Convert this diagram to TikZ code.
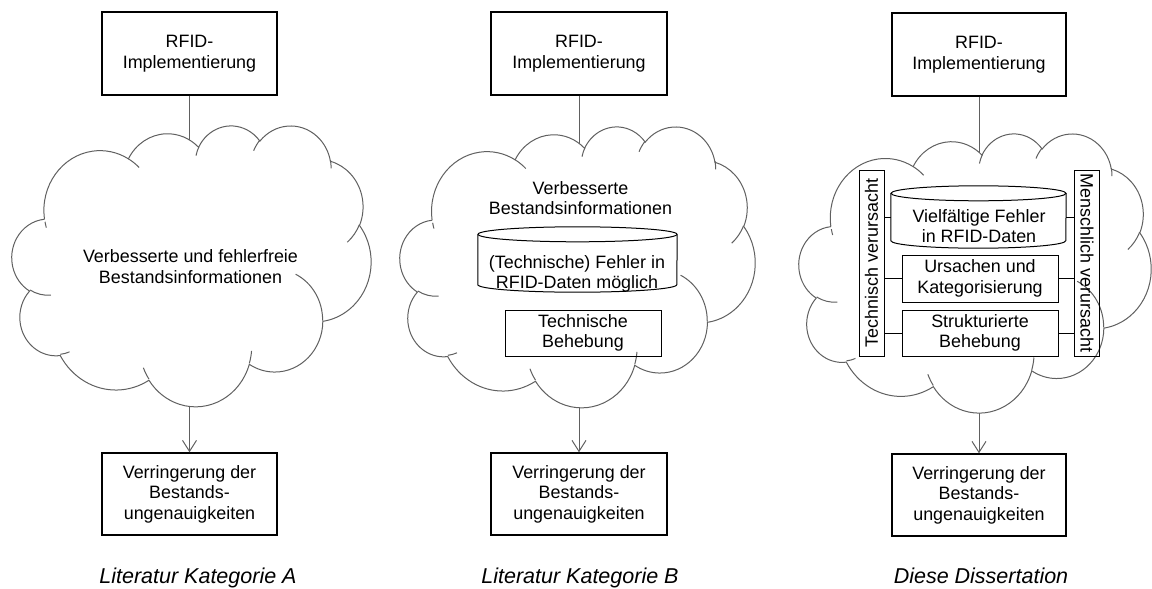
\documentclass[tikz,border=0pt]{standalone}
\usepackage{fontspec}
\setmainfont{Liberation Sans}
\usepackage{xcolor}
\usepackage{tikz}
\usetikzlibrary{arrows.meta}

\definecolor{cloudgray}{RGB}{96,96,96}

\newcommand{\boxfont}{\fontsize{17.9pt}{20.6pt}\selectfont}
\newcommand{\capfont}{\fontsize{21.5pt}{24pt}\selectfont}

\tikzset{
    mainbox/.style={draw, line width=1.4pt, align=center, inner sep=0pt,
        minimum width=175pt, minimum height=83pt},
    innerbox/.style={draw, line width=1pt, align=center, inner sep=0pt},
    drumbox/.style={inner sep=0pt},
    cloudline/.style={draw=cloudgray, line width=1pt},
    link/.style={draw=cloudgray, line width=1pt},
    sidelink/.style={draw, line width=1pt},
    arrowtip/.style={-{Straight Barb[length=11pt, width=14pt]}},
    caption/.style={font=\capfont\itshape, anchor=base}
}

% cloud outline, drawn in a box of 43.2 x 43.2 units
\newcommand{\rfidcloud}[3]{%
    \begin{scope}[shift={#1}, xscale=#2, yscale=-#3]
        \filldraw[cloudline, fill=white] (3.900, 14.370)
            arc[x radius=6.753, y radius=9.190, start angle=172.26, end angle=300.37]
            arc[x radius=5.333, y radius=7.267, start angle=-152.02, end angle=-45.46]
            arc[x radius=4.365, y radius=5.945, start angle=-153.48, end angle=-37.33]
            arc[x radius=4.857, y radius=6.595, start angle=-139.72, end angle=-10.21]
            arc[x radius=5.333, y radius=7.273, start angle=-74.77, end angle=23.21]
            arc[x radius=6.775, y radius=9.220, start angle=-37.53, end angle=81.86]
            arc[x radius=5.785, y radius=7.867, start angle=0.46, end angle=121.97]
            arc[x radius=6.752, y radius=9.215, start angle=16.84, end angle=146.22]
            arc[x radius=7.720, y radius=10.543, start angle=58.99, end angle=150.20]
            arc[x radius=4.360, y radius=5.918, start angle=83.31, end angle=223.11]
            arc[x radius=4.345, y radius=5.945, start angle=120.34, end angle=264.11]
            -- cycle;
        \draw[cloudline] (4.693, 26.177) arc[x radius=4.345, y radius=5.945, start angle=85.55, end angle=120.34];
        \draw[cloudline] (6.928, 34.899) arc[x radius=4.360, y radius=5.918, start angle=68.23, end angle=83.31];
        \draw[cloudline] (16.478, 39.090) arc[x radius=6.752, y radius=9.215, start angle=146.22, end angle=158.47];
        \draw[cloudline] (28.827, 34.751) arc[x radius=6.752, y radius=9.215, start angle=4.74, end angle=16.84];
        \draw[cloudline] (34.129, 22.954) arc[x radius=5.785, y radius=7.867, start angle=-64.03, end angle=0.46];
        \draw[cloudline] (41.798, 15.354) arc[x radius=5.333, y radius=7.273, start angle=23.21, end angle=49.63];
        \draw[cloudline] (38.324, 5.426) arc[x radius=4.857, y radius=6.595, start angle=-10.21, end angle=0.82];
        \draw[cloudline] (29.078, 3.952) arc[x radius=4.857, y radius=6.595, start angle=-156.28, end angle=-139.72];
        \draw[cloudline] (22.141, 4.720) arc[x radius=4.365, y radius=5.945, start angle=-167.73, end angle=-153.48];
        \draw[cloudline] (14.000, 5.192) arc[x radius=6.753, y radius=9.190, start angle=-59.63, end angle=-45.72];
        \draw[cloudline] (4.127, 15.789) arc[x radius=6.753, y radius=9.190, start angle=164.08, end angle=169.84];
    \end{scope}}

% database drum round an empty node
\newcommand{\drum}[2]{%
    \draw[line width=1pt] ([yshift=-7.5pt]#1.north west) -- ([yshift=7.5pt]#1.south west)
        arc[start angle=180, end angle=360, x radius=#2, y radius=7.5pt]
        -- ([yshift=-7.5pt]#1.north east);
    \draw[line width=1pt] ([yshift=-7.5pt]#1.north) ellipse [x radius=#2, y radius=7.5pt];}

\begin{document}
\begin{tikzpicture}[x=1pt, y=1pt, font=\boxfont]
    \useasboundingbox (0, 0) rectangle (1152, -589);

    \coordinate (cloudA) at (191.5, -266);
    \coordinate (cloudB) at (577.5, -267);
    \coordinate (cloudC) at (975, -273);

    % outer boxes
    \node[mainbox] (topA) at (189.5, -53.5) {RFID-\\Implementierung};
    \node[mainbox, minimum width=176pt] (topB) at (579, -53.5) {RFID-\\Implementierung};
    \node[mainbox, minimum width=174pt] (topC) at (979, -54.5) {RFID-\\Implementierung};

    \node[mainbox, minimum height=82pt] (botA) at (189.5, -494) {Verringerung der\\Bestands-\\ungenauigkeiten};
    \node[mainbox, minimum width=176pt, minimum height=82pt] (botB) at (579, -494) {Verringerung der\\Bestands-\\ungenauigkeiten};
    \node[mainbox, minimum width=174pt, minimum height=82pt] (botC) at (979, -495) {Verringerung der\\Bestands-\\ungenauigkeiten};

    \draw[link] (topA.south) -- (topA.south |- cloudA);
    \draw[link] (topB.south) -- (topB.south |- cloudB);
    \draw[link] (topC.south) -- (topC.south |- cloudC);
    \draw[link, arrowtip] (botA.north |- cloudA) -- (botA.north);
    \draw[link, arrowtip] (botB.north |- cloudB) -- (botB.north);
    \draw[link, arrowtip] (botC.north |- cloudC) -- (botC.north);

    % clouds
    \rfidcloud{(12, -125)}{8.31}{6.50}
    \rfidcloud{(400, -126)}{8.22}{6.50}
    \rfidcloud{(799, -133)}{8.15}{6.46}

    % Kategorie A
    \node[align=center] (infoA) at (190.5, -266.5) {Verbesserte und fehlerfreie\\Bestandsinformationen};

    % Kategorie B
    \node[align=center] (infoB) at (580.5, -198) {Verbesserte\\Bestandsinformationen};
    \node[drumbox, minimum width=199pt, minimum height=65pt] (drumB) at (577.5, -259.5) {};
    \drum{drumB}{99.5pt}
    \node[align=center] (errB) at (577, -273.7) {(Technische) Fehler in\\RFID-Daten möglich};
    \node[innerbox, minimum width=156pt, minimum height=46pt] (fixB) at (583, -333) {Technische\\Behebung};

    % Dissertation
    \node[drumbox, minimum width=175pt, minimum height=62pt] (drumC) at (978.5, -217) {};
    \drum{drumC}{87.5pt}
    \node[align=center] (errC) at (979, -226) {Vielfältige Fehler\\in RFID-Daten};
    \node[innerbox, minimum width=156pt, minimum height=47pt] (causeC) at (980, -278.5) {Ursachen und\\Kategorisierung};
    \node[innerbox, minimum width=156pt, minimum height=46pt] (fixC) at (980, -333) {Strukturierte\\Behebung};
    \node[innerbox, rotate=90, minimum width=186pt, minimum height=25pt] (techC) at (871.5, -263) {Technisch verursacht};
    \node[innerbox, rotate=-90, minimum width=186pt, minimum height=25pt] (humC) at (1087, -263) {Menschlich verursacht};

    \draw[sidelink] (techC.south |- drumC.west) -- (drumC.west);
    \draw[sidelink] (techC.south |- causeC.west) -- (causeC.west);
    \draw[sidelink] (techC.south |- fixC.west) -- (fixC.west);
    \draw[sidelink] (drumC.east) -- (humC.south |- drumC.east);
    \draw[sidelink] (causeC.east) -- (humC.south |- causeC.east);
    \draw[sidelink] (fixC.east) -- (humC.south |- fixC.east);

    % captions
    \node[caption] (capA) at (198, -583) {Literatur Kategorie A};
    \node[caption] (capB) at (580, -583) {Literatur Kategorie B};
    \node[caption] (capC) at (981, -583) {Diese Dissertation};
\end{tikzpicture}
\end{document}
